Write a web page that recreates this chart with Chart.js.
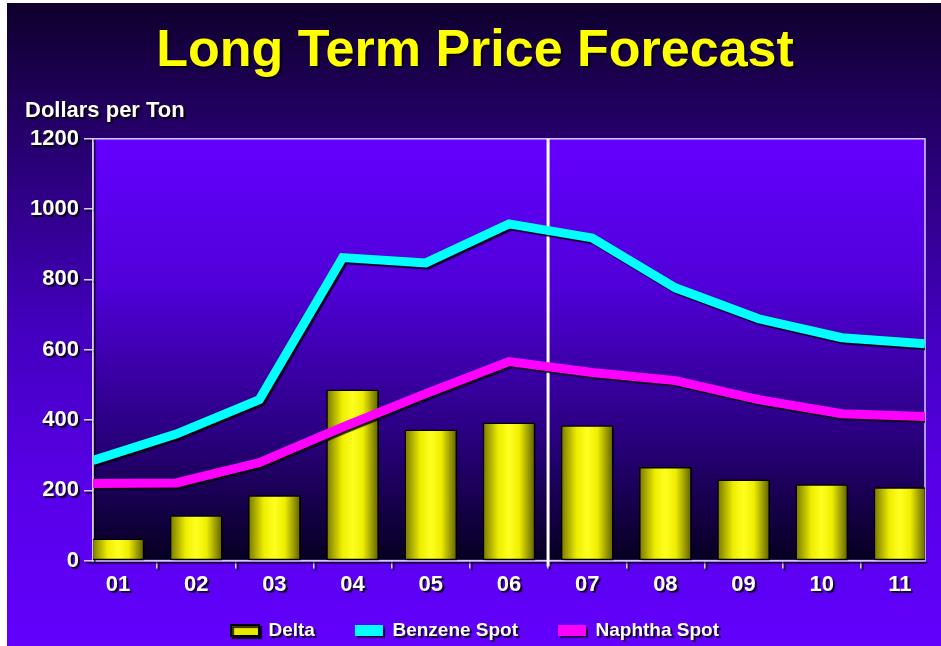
<!DOCTYPE html>
<html>
<head>
<meta charset="utf-8">
<script src="https://cdn.jsdelivr.net/npm/chart.js@4"></script>
<style>
    body { margin: 0; background: #fff; }
    #wrap {
        position: absolute; left: 7px; top: 3px; width: 934px; height: 643px;
        background: linear-gradient(to bottom, #0e002c 0%, #2a0078 25%, #4200bc 50%, #5800e8 75%, #6200fc 100%);
    }
</style>
</head>
<body>
<div id="wrap"><canvas id="chart"></canvas></div>
<script>
// Data
const years = ['01', '02', '03', '04', '05', '06', '07', '08', '09', '10', '11'];
const delta = [62, 128, 185, 486, 372, 392, 384, 265, 230, 216, 208];
const benzene = [285, 360, 458, 862, 847, 958, 918, 776, 688, 634, 617];
const naphtha = [219, 221, 279, 380, 475, 566, 535, 512, 458, 418, 410];
const forecastStart = 6.5;

const FONT = '"Liberation Sans", Arial, sans-serif';
const EDGE = '#d8ccff';
const LEGEND_LIFT = 20;

// Backgrounds, shadows, border, divider
const deco = {
    id: 'deco',
    afterLayout(chart) {
        // pull the legend up closer to the axis labels
        chart.legend.top -= LEGEND_LIFT;
        chart.legend.bottom -= LEGEND_LIFT;
    },
    beforeDraw(chart) {
        const { ctx, chartArea: a } = chart;
        const g = ctx.createLinearGradient(0, a.top, 0, a.bottom);
        g.addColorStop(0, '#6400ff');
        g.addColorStop(0.35, '#5000d8');
        g.addColorStop(0.7, '#2a0080');
        g.addColorStop(1, '#060020');
        ctx.fillStyle = g;
        ctx.fillRect(a.left, a.top, a.right - a.left, a.bottom - a.top);
        ctx.strokeStyle = EDGE;
        ctx.lineWidth = 1.5;
        ctx.strokeRect(a.left, a.top, a.right - a.left, a.bottom - a.top);
        ctx.save();
        ctx.shadowColor = 'rgba(0,0,0,0.85)';
        ctx.shadowOffsetX = 2;
        ctx.shadowOffsetY = 2;
        ctx.shadowBlur = 1;
    },
    beforeDatasetsDraw(chart) {
        const { ctx, chartArea: a, scales } = chart;
        const x = scales.x.getPixelForValue(forecastStart);
        ctx.save();
        ctx.shadowColor = 'transparent';
        ctx.strokeStyle = '#ffffff';
        ctx.lineWidth = 3;
        ctx.beginPath();
        ctx.moveTo(x, a.top);
        ctx.lineTo(x, a.bottom + 6);
        ctx.stroke();
        ctx.restore();
    },
    afterDraw(chart) {
        chart.ctx.restore();
    }
};

function barFill(c) {
    const chart = c.chart;
    if (!chart.chartArea || !c.parsed) return '#ffff00';
    const x = chart.scales.x.getPixelForValue(c.parsed.x);
    const g = chart.ctx.createLinearGradient(x - 26, 0, x + 26, 0);
    g.addColorStop(0, '#767600');
    g.addColorStop(0.3, '#eeee00');
    g.addColorStop(0.5, '#ffff20');
    g.addColorStop(0.7, '#eeee00');
    g.addColorStop(1, '#5e5e00');
    return g;
}

new Chart(document.getElementById('chart'), {
    data: {
        datasets: [{
            type: 'bar',
            label: 'Delta',
            data: delta.map((v, i) => ({ x: i + 1, y: v })),
            xAxisID: 'x',
            backgroundColor: barFill,
            borderColor: '#000',
            borderWidth: 1.5,
            borderSkipped: false,
            grouped: false,
            barThickness: 52,
            order: 3
        }, {
            type: 'line',
            label: 'Benzene Spot',
            data: benzene.map((v, i) => ({ x: i + 1, y: v })),
            xAxisID: 'x2',
            borderColor: '#00ffff',
            backgroundColor: '#00ffff',
            borderWidth: 9,
            pointRadius: 0,
            tension: 0,
            order: 1
        }, {
            type: 'line',
            label: 'Naphtha Spot',
            data: naphtha.map((v, i) => ({ x: i + 1, y: v })),
            xAxisID: 'x2',
            borderColor: '#ff00ff',
            backgroundColor: '#ff00ff',
            borderWidth: 9,
            pointRadius: 0,
            tension: 0,
            order: 2
        }]
    },
    options: {
        responsive: true,
        maintainAspectRatio: false,
        animation: false,
        events: [],
        layout: { padding: { left: 18, right: 16, top: 0, bottom: -24 } },
        plugins: {
            title: {
                display: true,
                text: 'Long Term Price Forecast',
                color: '#ffff00',
                font: { family: FONT, size: 52, weight: 'bold' },
                padding: { top: 17, bottom: 15 }
            },
            subtitle: {
                display: true,
                text: 'Dollars per Ton',
                align: 'start',
                color: '#ffffff',
                font: { family: FONT, size: 22, weight: 'bold' },
                padding: { top: 0, bottom: 15 }
            },
            legend: {
                position: 'bottom',
                labels: {
                    color: '#ffffff',
                    font: { family: FONT, size: 19, weight: 'bold' },
                    boxWidth: 28,
                    boxHeight: 11,
                    padding: 40,
                    generateLabels: chart => chart.data.datasets.map((d, i) => ({
                        text: d.label,
                        fillStyle: d.type === 'bar' ? '#e8e800' : d.borderColor,
                        strokeStyle: d.type === 'bar' ? '#000' : d.borderColor,
                        lineWidth: d.type === 'bar' ? 2 : 0,
                        fontColor: '#ffffff',
                        datasetIndex: i
                    }))
                }
            },
            tooltip: { enabled: false }
        },
        scales: {
            x: {
                type: 'linear',
                offset: false,
                bounds: 'data',
                min: 0.68,
                max: 11.32,
                afterBuildTicks: s => { s.ticks = years.map((_, i) => ({ value: i + 1 })); },
                ticks: {
                    color: '#ffffff',
                    font: { family: FONT, size: 22, weight: 'bold' },
                    padding: 3,
                    callback: v => years[v - 1] || ''
                },
                grid: { offset: true, drawOnChartArea: false, color: EDGE, tickLength: 8, lineWidth: 1.5 },
                border: { color: EDGE, width: 1.5 }
            },
            x2: {
                type: 'linear',
                offset: false,
                min: 1,
                max: 11,
                display: false
            },
            y: {
                min: 0,
                max: 1200,
                ticks: {
                    stepSize: 200,
                    color: '#ffffff',
                    font: { family: FONT, size: 22, weight: 'bold' },
                    padding: 5,
                    callback: v => String(v)
                },
                grid: { drawOnChartArea: false, color: EDGE, tickLength: 9, lineWidth: 1.5 },
                border: { color: EDGE, width: 1.5 }
            }
        }
    },
    plugins: [deco]
});
</script>
</body>
</html>
